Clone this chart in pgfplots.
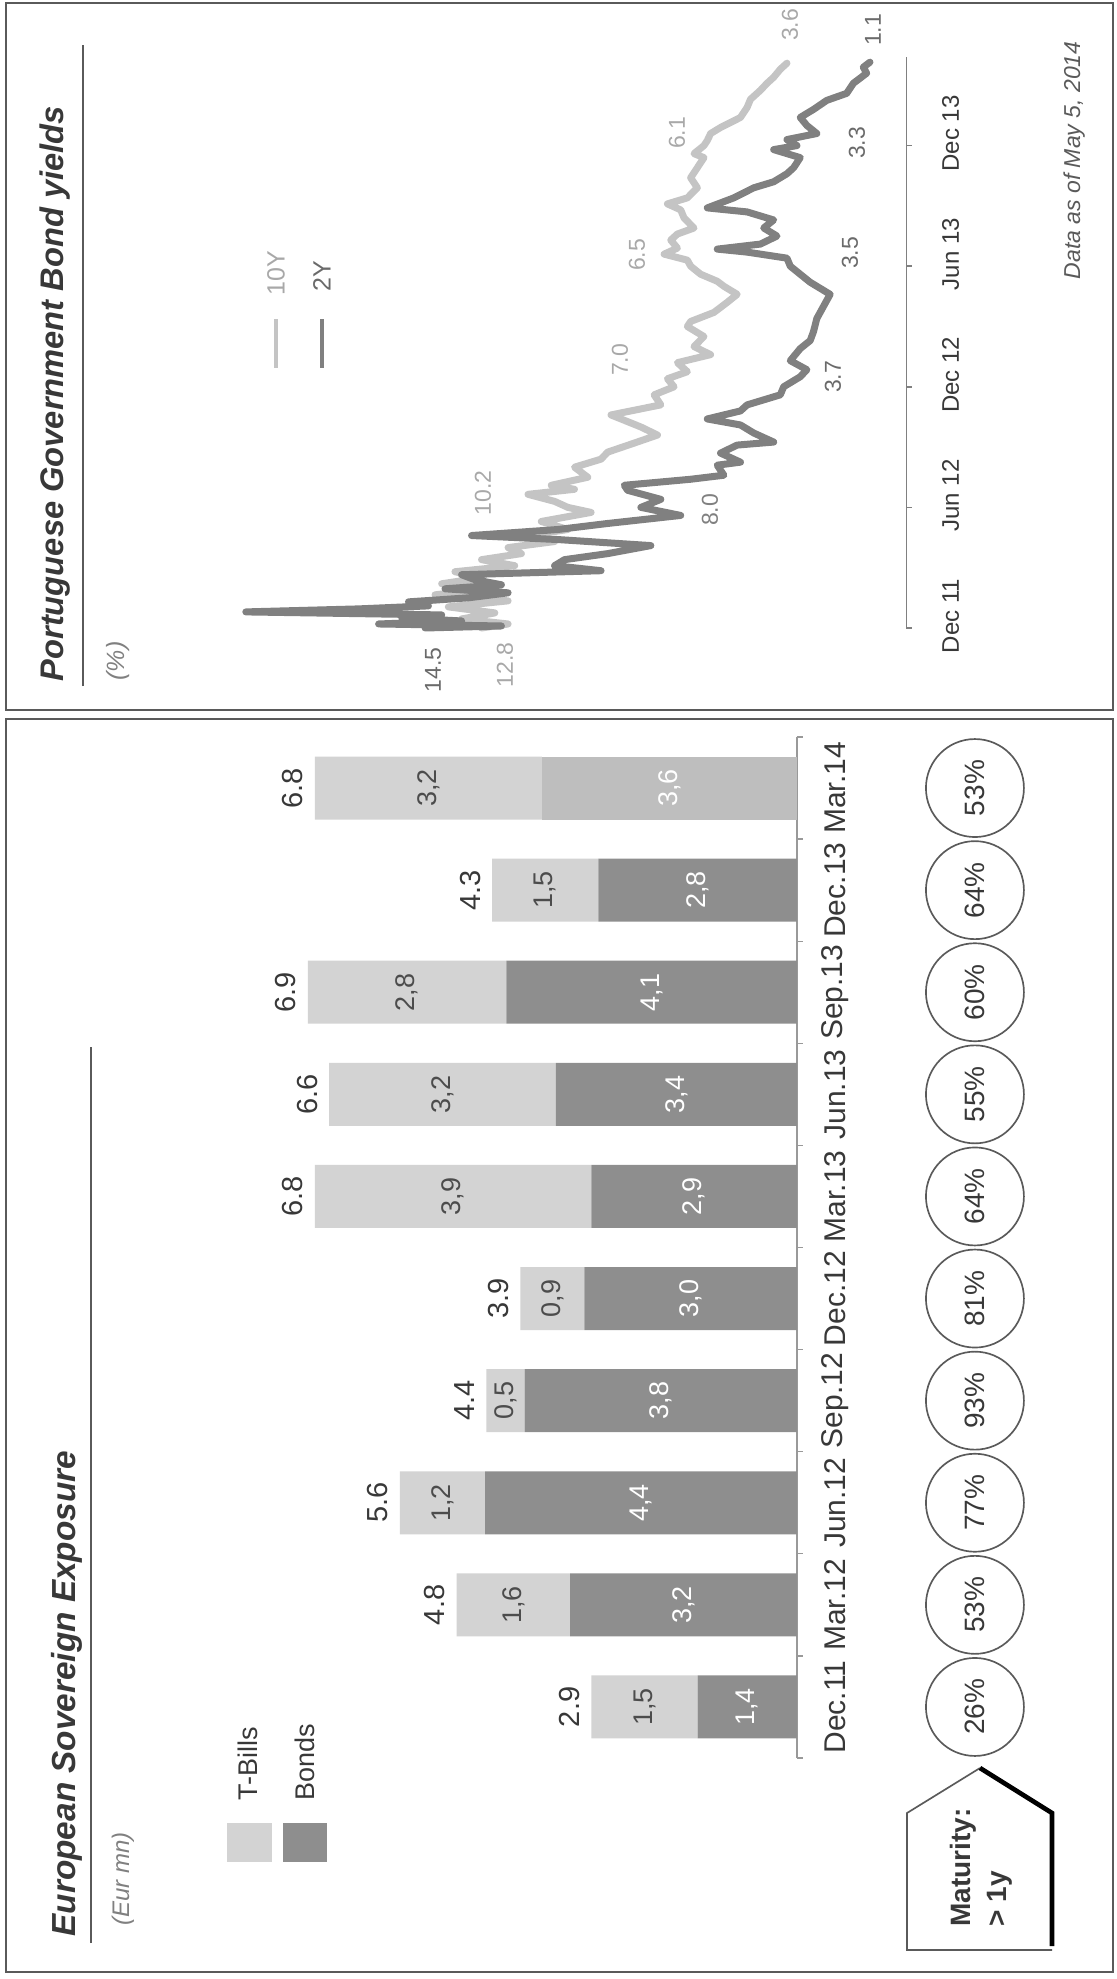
\documentclass[border=0pt]{standalone}
\usepackage{pgfplots}
\pgfplotsset{compat=1.18}
\usepackage{fontspec}
\setmainfont{Liberation Sans}

\definecolor{tbill}{HTML}{D3D3D3}
\definecolor{bond}{HTML}{8E8E8E}
\definecolor{bondlt}{HTML}{BEBEBE}
\definecolor{tenY}{HTML}{C4C4C4}
\definecolor{twoY}{HTML}{808080}
\definecolor{ink}{HTML}{383838}
\definecolor{framecol}{HTML}{5A5A5A}
\definecolor{tenlab}{HTML}{A8A8A8}
\definecolor{twolab}{HTML}{6A6A6A}

\newcommand{\fz}[1]{\fontsize{#1}{#1}\selectfont}

\tikzset{
  catlab/.style={rotate=90, font=\fz{9pt}, text=ink},
  totlab/.style={rotate=90, font=\fz{8.7pt}, text=ink},
  tblab/.style={rotate=90, font=\fz{8.1pt}, text=black!70},
  bdlab/.style={rotate=90, font=\fz{8.1pt}, text=white},
  pct/.style={circle, draw=framecol, line width=0.5pt, minimum size=29.4pt,
    inner sep=0pt, rotate=90, font=\fz{8.4pt}, text=ink},
  ylab/.style={rotate=90, font=\fz{6.9pt}},
  datelab/.style={rotate=90, font=\fz{7.2pt}, text=ink},
}

\begin{document}
\begin{tikzpicture}[x=0.3pt, y=-0.3pt]
\path[use as bounding box] (0,0) rectangle (1117,1979);

% panel frames
\draw[framecol, line width=0.5pt] (6,3) rectangle (1113,710);
\draw[framecol, line width=0.5pt] (6,719) rectangle (1113,1972);

%%%%%%%%%%%%%%%% Bond yields panel %%%%%%%%%%%%%%%%
\node[rotate=90, anchor=base west, inner sep=0, font=\fz{9.8pt}\bfseries\itshape, text=ink] at (63,682) {Portuguese Government Bond yields};
\draw[framecol, line width=0.6pt] (83,686) -- (83,45);
\node[rotate=90, anchor=west, inner sep=0, font=\fz{7.5pt}\itshape, text=gray] at (118,681) {(\%)};

% legend
\draw[tenY, line width=1.2pt] (276,319) -- (276,368);
\draw[twoY, line width=1.2pt] (322,319) -- (322,368);
\node[rotate=90, anchor=west, inner sep=0, font=\fz{7.5pt}, text=tenlab] at (276,296) {10Y};
\node[rotate=90, anchor=west, inner sep=0, font=\fz{7.5pt}, text=twolab] at (322,292) {2Y};

\begin{axis}[at={(162.39pt,-102.77pt)}, anchor=center, scale only axis,
  width=219.12pt, height=171.25pt,
  xmin=0, xmax=22, ymin=0, ymax=28.4, x dir=reverse,
  hide axis, clip=false]
% 10Y yield (x = yield in %, y = months since Dec 2011)
\addplot[tenY, line width=2.1pt, line join=round, line cap=round] coordinates {
 (12.8,0) (12.0,0.2) (13.4,0.45) (12.4,0.75) (13.8,1.05) (12.0,1.35) (14.2,1.65)
 (12.6,1.95) (14.0,2.2) (12.8,2.5) (13.6,2.8) (11.8,3.1) (12.8,3.4) (11.6,3.7)
 (12.0,4.0) (10.6,4.3) (11.4,4.6) (10.2,4.9) (11.0,5.3) (9.5,5.75) (10.2,6.0)
 (10.6,6.3) (11.4,6.65) (10.0,6.9) (10.7,7.1) (9.6,7.5) (10.0,8.0) (9.2,8.4)
 (9.0,8.75) (8.2,9.2) (7.5,9.6) (8.0,10.0) (8.9,10.6) (7.4,11.1) (7.6,11.6)
 (7.0,12.0) (7.2,12.4) (6.6,12.75) (6.9,13.2) (5.9,13.6) (6.4,14.0) (6.1,14.5)
 (6.6,15.0) (6.5,15.25) (5.8,15.7) (5.4,16.2) (5.1,16.6) (5.5,17.0) (5.7,17.25)
 (6.2,17.6) (6.5,18.0) (6.6,18.3) (7.3,18.6) (6.9,18.9) (7.1,19.3) (6.9,19.6)
 (6.4,19.9) (6.7,20.4) (6.8,20.8) (7.2,21.1) (6.6,21.4) (6.3,21.9) (6.5,22.4)
 (6.3,22.9) (6.1,23.4) (6.4,23.6) (6.1,24.0) (6.0,24.25) (5.9,24.6) (5.6,24.9)
 (5.0,25.4) (4.8,25.9) (4.7,26.3) (4.4,26.75) (4.2,27.1) (4.0,27.4) (3.8,27.8)
 (3.6,28.1)};
% 2Y yield
\addplot[twoY, line width=2.1pt, line join=round, line cap=round] coordinates {
 (14.5,0) (12.2,0.1) (15.9,0.2) (13.4,0.35) (15.2,0.5) (14.0,0.65) (19.9,0.8)
 (16.5,0.95) (14.4,1.1) (15.0,1.3) (13.2,1.5) (12.0,1.75) (13.9,1.95) (12.2,2.15)
 (13.0,2.4) (13.4,2.65) (9.2,2.85) (10.6,3.1) (10.3,3.4) (9.0,3.7) (7.7,4.1)
 (10.5,4.4) (13.1,4.6) (10.5,4.9) (9.0,5.2) (6.8,5.6) (8.0,6.0) (7.4,6.4)
 (8.4,6.85) (8.5,7.1) (6.5,7.4) (5.5,7.6) (5.7,8.1) (5.0,8.25) (5.6,8.7)
 (5.1,9.1) (4.0,9.25) (4.6,9.7) (5.0,10.1) (6.0,10.4) (5.0,10.8) (4.8,11.1)
 (3.8,11.6) (3.7,12.0) (3.2,12.5) (3.0,12.85) (3.5,13.3) (3.2,13.9) (2.9,14.3)
 (2.8,14.75) (2.7,15.4) (2.5,16.0) (2.3,16.6) (2.9,17.2) (3.2,17.6) (3.5,18.0)
 (3.6,18.4) (4.8,18.7) (5.7,18.85) (4.4,19.1) (3.9,19.5) (4.3,19.9) (4.0,20.3)
 (4.8,20.7) (6.0,20.9) (5.2,21.4) (4.6,21.9) (4.0,22.2) (3.6,22.6) (3.4,22.9)
 (3.2,23.4) (4.0,23.8) (3.3,24.0) (3.6,24.3) (2.7,24.6) (3.0,25.0) (3.2,25.4)
 (2.8,25.8) (2.4,26.25) (1.8,26.6) (1.6,27.1) (1.2,27.6) (1.3,27.9) (1.1,28.15)};
% time axis
\draw[gray, line width=0.5pt] (axis cs:0,0) -- (axis cs:0,28.4);
\pgfplotsinvokeforeach{0,6,12,18,24}{\draw[gray, line width=0.5pt] (axis cs:0,#1) -- (axis cs:-0.16,#1);}
\node[datelab] at (axis cs:-1.33,0.6) {Dec 11};
\node[datelab] at (axis cs:-1.33,6.6) {Jun 12};
\node[datelab] at (axis cs:-1.33,12.6) {Dec 12};
\node[datelab] at (axis cs:-1.33,18.6) {Jun 13};
\node[datelab] at (axis cs:-1.33,24.6) {Dec 13};
\end{axis}

% yield values at the semi-annual dates
\node[ylab, text=twolab] at (433,670) {14.5};
\node[ylab, text=tenlab] at (505,665) {12.8};
\node[ylab, text=tenlab] at (483,493) {10.2};
\node[ylab, text=twoY] at (710,510) {8.0};
\node[ylab, text=tenlab] at (620,360) {7.0};
\node[ylab, text=twolab] at (833,377) {3.7};
\node[ylab, text=tenlab] at (637,255) {6.5};
\node[ylab, text=twolab] at (850,253) {3.5};
\node[ylab, text=tenlab] at (677,133) {6.1};
\node[ylab, text=twolab] at (857,143) {3.3};
\node[ylab, text=tenlab] at (790,25) {3.6};
\node[ylab, text=twolab] at (873,30) {1.1};
\node[rotate=90, anchor=base west, inner sep=0, font=\fz{6.9pt}\itshape, text=framecol] at (1080,280) {Data as of May 5, 2014};

%%%%%%%%%%%%%%%% Sovereign exposure panel %%%%%%%%%%%%%%%%
\node[rotate=90, anchor=base west, inner sep=0, font=\fz{10pt}\bfseries\itshape, text=ink] at (76,1937) {European Sovereign Exposure};
\draw[framecol, line width=0.6pt] (91,1943) -- (91,1047);
\node[rotate=90, anchor=west, inner sep=0, font=\fz{7.2pt}\itshape, text=gray] at (123,1926) {(Eur mn)};

% legend
\fill[tbill] (227,1823) rectangle (272,1862);
\fill[bond] (283,1823) rectangle (327,1862);
\node[rotate=90, anchor=west, inner sep=0, font=\fz{8.1pt}, text=ink] at (248,1801) {T-Bills};
\node[rotate=90, anchor=west, inner sep=0, font=\fz{8.1pt}, text=ink] at (305,1801) {Bonds};

\begin{axis}[at={(154.02pt,-374.25pt)}, anchor=center, scale only axis,
  width=170.16pt, height=306.3pt,
  xmin=0, xmax=8, ymin=-0.5, ymax=9.5, x dir=reverse,
  hide axis, clip=false, xbar stacked, bar width=18.9pt]
% Bonds
\addplot[fill=bond, draw=none] coordinates {
 (1.4,0) (3.2,1) (4.4,2) (3.84,3) (3.0,4) (2.9,5) (3.4,6) (4.1,7) (2.8,8) (0,9)};
% Bonds, latest quarter
\addplot[fill=bondlt, draw=none] coordinates {
 (0,0) (0,1) (0,2) (0,3) (0,4) (0,5) (0,6) (0,7) (0,8) (3.6,9)};
% T-Bills
\addplot[fill=tbill, draw=none] coordinates {
 (1.5,0) (1.6,1) (1.2,2) (0.54,3) (0.9,4) (3.9,5) (3.2,6) (2.8,7) (1.5,8) (3.2,9)};
% category axis
\draw[gray!80, line width=0.4pt] (axis cs:0,-0.5) -- (axis cs:0,9.5);
\pgfplotsinvokeforeach{-0.5,0.5,1.5,2.5,3.5,4.5,5.5,6.5,7.5,8.5,9.5}{\draw[gray!80, line width=0.4pt] (axis cs:0,#1) -- (axis cs:-0.08,#1);}
\node[catlab] at (axis cs:-0.536,0) {Dec.11};
\node[catlab] at (axis cs:-0.536,1) {Mar.12};
\node[catlab] at (axis cs:-0.536,2) {Jun.12};
\node[catlab] at (axis cs:-0.536,3) {Sep.12};
\node[catlab] at (axis cs:-0.536,4) {Dec.12};
\node[catlab] at (axis cs:-0.536,5) {Mar.13};
\node[catlab] at (axis cs:-0.536,6) {Jun.13};
\node[catlab] at (axis cs:-0.536,7) {Sep.13};
\node[catlab] at (axis cs:-0.536,8) {Dec.13};
\node[catlab] at (axis cs:-0.536,9) {Mar.14};
% totals
\node[totlab] at (axis cs:3.21,0) {2.9};
\node[totlab] at (axis cs:5.11,1) {4.8};
\node[totlab] at (axis cs:5.91,2) {5.6};
\node[totlab] at (axis cs:4.69,3) {4.4};
\node[totlab] at (axis cs:4.21,4) {3.9};
\node[totlab] at (axis cs:7.11,5) {6.8};
\node[totlab] at (axis cs:6.91,6) {6.6};
\node[totlab] at (axis cs:7.21,7) {6.9};
\node[totlab] at (axis cs:4.61,8) {4.3};
\node[totlab] at (axis cs:7.11,9) {6.8};
% anchor points for the segment values (middle of each segment)
\coordinate (t0) at (axis cs:2.15,0);
\coordinate (t1) at (axis cs:4.0,1);
\coordinate (t2) at (axis cs:5.0,2);
\coordinate (t3) at (axis cs:4.11,3);
\coordinate (t4) at (axis cs:3.45,4);
\coordinate (t5) at (axis cs:4.85,5);
\coordinate (t6) at (axis cs:5.0,6);
\coordinate (t7) at (axis cs:5.5,7);
\coordinate (t8) at (axis cs:3.55,8);
\coordinate (t9) at (axis cs:5.2,9);
\coordinate (b0) at (axis cs:0.7,0);
\coordinate (b1) at (axis cs:1.6,1);
\coordinate (b2) at (axis cs:2.2,2);
\coordinate (b3) at (axis cs:1.92,3);
\coordinate (b4) at (axis cs:1.5,4);
\coordinate (b5) at (axis cs:1.45,5);
\coordinate (b6) at (axis cs:1.7,6);
\coordinate (b7) at (axis cs:2.05,7);
\coordinate (b8) at (axis cs:1.4,8);
\coordinate (b9) at (axis cs:1.8,9);
% share of maturity above one year
\node[pct] at (axis cs:-2.51,0) {26\%};
\node[pct] at (axis cs:-2.51,1) {53\%};
\node[pct] at (axis cs:-2.51,2) {77\%};
\node[pct] at (axis cs:-2.51,3) {93\%};
\node[pct] at (axis cs:-2.51,4) {81\%};
\node[pct] at (axis cs:-2.51,5) {64\%};
\node[pct] at (axis cs:-2.51,6) {55\%};
\node[pct] at (axis cs:-2.51,7) {60\%};
\node[pct] at (axis cs:-2.51,8) {64\%};
\node[pct] at (axis cs:-2.51,9) {53\%};
\end{axis}

% segment values, set over the bars
\node[tblab] at (t0) {1,5};
\node[tblab] at (t1) {1,6};
\node[tblab] at (t2) {1,2};
\node[tblab] at (t3) {0,5};
\node[tblab] at (t4) {0,9};
\node[tblab] at (t5) {3,9};
\node[tblab] at (t6) {3,2};
\node[tblab] at (t7) {2,8};
\node[tblab] at (t8) {1,5};
\node[tblab] at (t9) {3,2};
\node[bdlab] at (b0) {1,4};
\node[bdlab] at (b1) {3,2};
\node[bdlab] at (b2) {4,4};
\node[bdlab] at (b3) {3,8};
\node[bdlab] at (b4) {3,0};
\node[bdlab] at (b5) {2,9};
\node[bdlab] at (b6) {3,4};
\node[bdlab] at (b7) {4,1};
\node[bdlab] at (b8) {2,8};
\node[bdlab] at (b9) {3,6};

% maturity tag
\draw[framecol, line width=0.5pt] (980,1768) -- (907,1813) -- (907,1950) -- (1052,1950);
\draw[black, line width=1.4pt] (980,1768) -- (1052,1813) -- (1052,1946);
\node[rotate=90, anchor=base west, inner sep=0, font=\fz{8.4pt}\bfseries, text=ink] at (970,1927) {Maturity:};
\node[rotate=90, anchor=base west, inner sep=0, font=\fz{8.4pt}\bfseries, text=ink] at (1006,1927) {> 1y};
\end{tikzpicture}
\end{document}
